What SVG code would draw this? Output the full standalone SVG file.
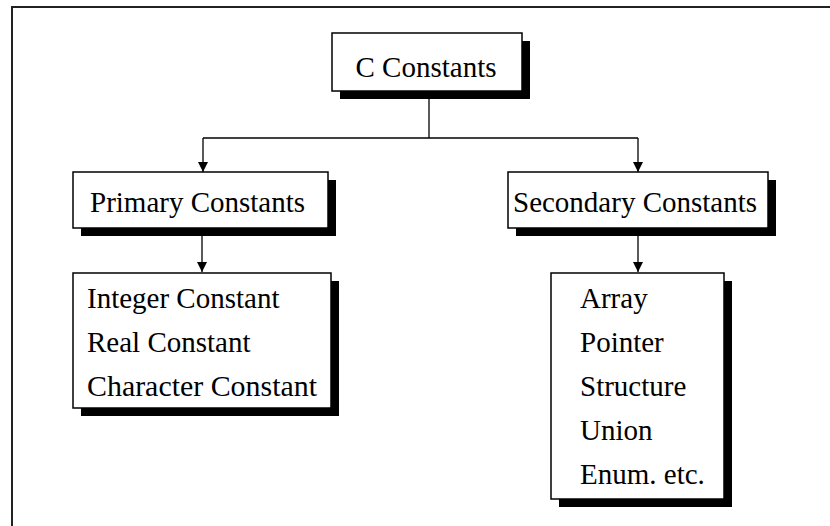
<svg xmlns="http://www.w3.org/2000/svg" width="830" height="526" viewBox="0 0 830 526">
<style>
.box{fill:#fff;stroke:#000;stroke-width:1.5}
.sh{fill:#000}
.t{font-family:"Liberation Serif","Times New Roman",serif;font-size:29px;fill:#000}
.c{fill:none;stroke:#000;stroke-width:1.3}
</style>
<defs>
<marker id="ah" markerWidth="10" markerHeight="11" refX="10" refY="5" orient="auto" markerUnits="userSpaceOnUse">
<path d="M0,0 L10,5 L0,10 Z" fill="#000"/>
</marker>
</defs>
<rect x="12" y="7" width="830" height="530" fill="#fff" stroke="#222" stroke-width="2"/>
<g id="connectors">
<path class="c" d="M429,91 V138"/>
<path class="c" d="M203,138 H638"/>
<path class="c" d="M203,138 V172" marker-end="url(#ah)"/>
<path class="c" d="M638,138 V172" marker-end="url(#ah)"/>
<path class="c" d="M202,236 V272" marker-end="url(#ah)"/>
<path class="c" d="M638,236 V272" marker-end="url(#ah)"/>
</g>
<g id="c-constants">
<rect class="sh" x="340" y="41" width="190" height="58"/>
<rect class="box" x="332" y="33" width="190" height="58"/>
<text class="t" x="426" y="77" text-anchor="middle">C Constants</text>
</g>
<g id="primary">
<rect class="sh" x="81" y="180" width="255" height="56"/>
<rect class="box" x="73" y="172" width="255" height="56"/>
<text class="t" x="90" y="212">Primary Constants</text>
</g>
<g id="secondary">
<rect class="sh" x="516" y="180" width="260" height="56"/>
<rect class="box" x="508" y="172" width="260" height="56"/>
<text class="t" x="513" y="212">Secondary Constants</text>
</g>
<g id="primary-list">
<rect class="sh" x="81" y="281" width="258" height="135"/>
<rect class="box" x="73" y="273" width="258" height="135"/>
<text class="t" x="87" y="308">Integer Constant</text>
<text class="t" x="87" y="352">Real Constant</text>
<text class="t" x="87" y="396" textLength="230" lengthAdjust="spacingAndGlyphs">Character Constant</text>
</g>
<g id="secondary-list">
<rect class="sh" x="559" y="281" width="173" height="226"/>
<rect class="box" x="551" y="273" width="173" height="226"/>
<text class="t" x="580" y="308">Array</text>
<text class="t" x="580" y="352">Pointer</text>
<text class="t" x="580" y="396">Structure</text>
<text class="t" x="580" y="440">Union</text>
<text class="t" x="580" y="484">Enum. etc.</text>
</g>
</svg>
